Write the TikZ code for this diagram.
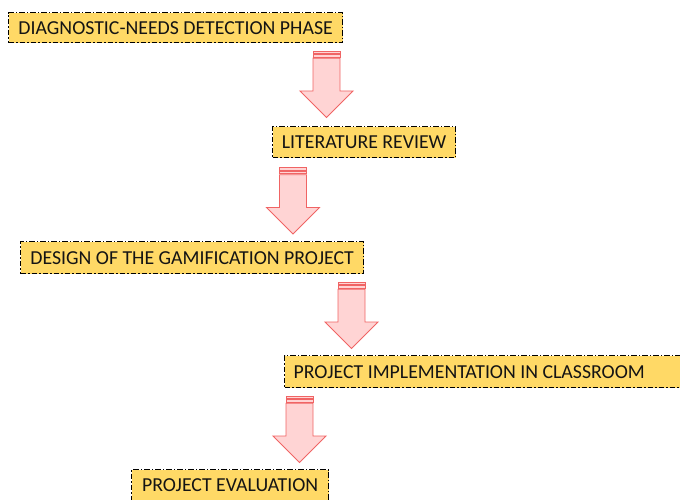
\documentclass[tikz,border=0pt]{standalone}
\usepackage{fontspec}
\setmainfont{Carlito}
\usetikzlibrary{positioning}
\definecolor{phaseFond}{RGB}{255,217,102}
\definecolor{flecheTrait}{RGB}{240,100,100}
\definecolor{flecheFond}{RGB}{255,212,212}
\definecolor{texteNoir}{RGB}{20,20,20}

\begin{document}
\begin{tikzpicture}[
  x=1pt, y=-1pt,
  every node/.style={font=\fontsize{19.8}{22}\selectfont, text=texteNoir},
  phase/.style={draw=black, line width=1.3pt, dash pattern=on 5.5pt off 2pt on 1.5pt off 2pt,
                fill=phaseFond, anchor=north west, inner xsep=9pt, inner ysep=0pt},
  fleche/.style={draw=flecheTrait, line width=0.9pt, fill=flecheFond, line join=miter},
  pics/descente/.style={code={
    \path[fleche] (-13.5,0) rectangle (13.5,2.5);
    \path[fleche] (-13.5,3.6) rectangle (13.5,6.1);
    \path[fleche] (-13.5,7.2) -- (13.5,7.2) -- (13.5,40) -- (26.5,40) -- (0,66.5)
                  -- (-26.5,40) -- (-13.5,40) -- cycle;
  }}
]
\useasboundingbox (0,0) rectangle (680,500);

% ---- les cinq phases ----
\node[phase, minimum width=334pt, minimum height=30pt] (diag) at (8,12)
     {DIAGNOSTIC-NEEDS DETECTION PHASE};
\node[phase, minimum width=183pt, minimum height=31pt] (litt) at (272,126)
     {LITERATURE REVIEW};
\node[phase, minimum width=343pt, minimum height=32pt] (concep) at (20,241)
     {DESIGN OF THE GAMIFICATION PROJECT};
\node[phase, minimum height=32pt] (implem) at (284,355)
     {\makebox[384pt][l]{PROJECT IMPLEMENTATION IN CLASSROOM}};
\node[phase, minimum width=197pt, minimum height=31pt] (evalu) at (131,469)
     {PROJECT EVALUATION};

% ---- fleches entre les phases ----
\pic at (326.5,51) {descente};
\pic at (293,167.5) {descente};
\pic at (351.5,282) {descente};
\pic at (299.5,396) {descente};

\end{tikzpicture}
\end{document}
